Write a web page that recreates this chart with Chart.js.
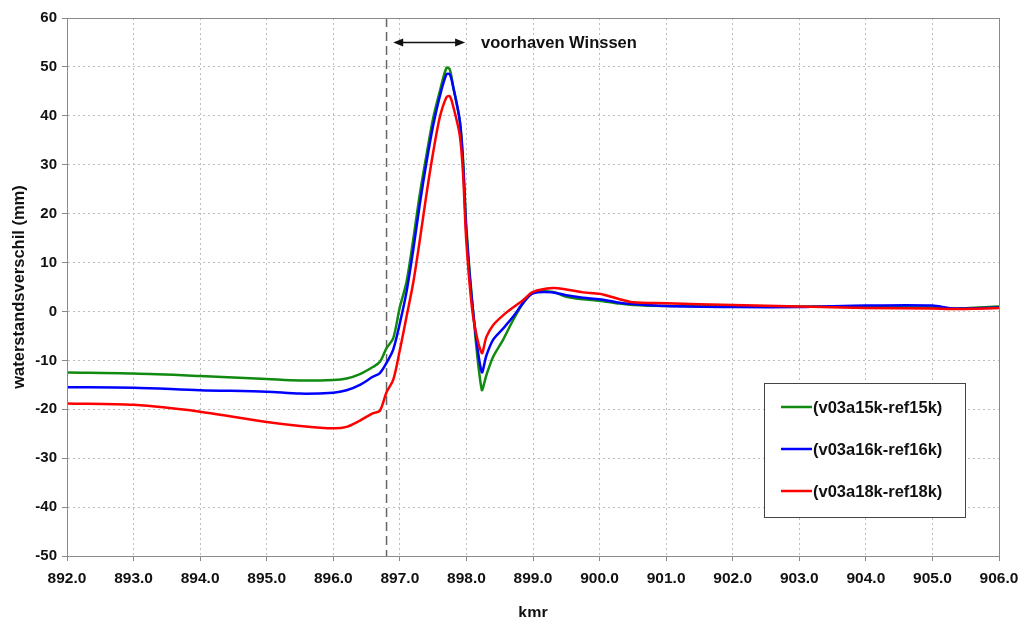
<!DOCTYPE html>
<html>
<head>
<meta charset="utf-8">
<script src="https://cdn.jsdelivr.net/npm/chart.js@4/dist/chart.umd.min.js"></script>
<style>
  html, body { margin: 0; padding: 0; background: #fff; }
  #wrap { width: 1019px; height: 617px; }
</style>
</head>
<body>
<div id="wrap"><canvas id="lineChart"></canvas></div>
<script>
// kmr positions (shared by all three series)
const kmr = [892.0, 893.0, 894.0, 895.0, 895.5, 896.0, 896.2, 896.4, 896.6, 896.7,
  896.8, 896.9, 897.0, 897.1, 897.2, 897.3, 897.4, 897.5, 897.6, 897.7,
  897.75, 897.8, 897.9, 897.95, 898.0, 898.1, 898.23, 898.3, 898.4, 898.55,
  898.7, 898.85, 899.0, 899.3, 899.5, 899.75, 900.0, 900.25, 900.5, 901.0,
  902.0, 903.0, 904.0, 905.0, 905.3, 906.0];

const v15 = [-12.5, -12.7, -13.2, -13.8, -14.1, -14.0, -13.7, -12.8, -11.3, -10.3,
  -7.5, -5.5, 0.9, 6, 14.6, 24, 32, 39.5, 45, 49.8,
  49.5, 46, 39, 31, 17, 0, -16, -13, -9.3, -5.8,
  -1.8, 1.7, 3.8, 4.0, 3.0, 2.5, 2.2, 1.7, 1.3, 1.1,
  1.1, 1.0, 0.9, 0.8, 0.6, 1.0];

const v16 = [-15.5, -15.6, -16.1, -16.4, -16.8, -16.6, -16.1, -15.0, -13.3, -12.6,
  -10.5, -7.8, -2.4, 4, 12.5, 22, 30.5, 38, 44, 48.5,
  48.5, 46, 39, 30, 16, 0, -12.4, -9, -5.8, -3.5,
  -1.1, 1.7, 3.7, 3.9, 3.3, 2.8, 2.5, 1.9, 1.5, 1.1,
  0.9, 0.9, 1.2, 1.2, 0.6, 0.8];

const v18 = [-18.8, -19.1, -20.5, -22.6, -23.4, -23.9, -23.6, -22.3, -20.8, -20.3,
  -16.5, -14.0, -7.9, -1.1, 5.8, 14.6, 24, 32.5, 39.7, 43.8,
  44, 42, 36, 28, 14, -1, -8.5, -5.2, -2.8, -0.8,
  0.8, 2.3, 4.0, 4.8, 4.5, 3.9, 3.6, 2.7, 1.9, 1.7,
  1.3, 1.0, 0.7, 0.6, 0.5, 0.7];

const seriesNames = ["(v03a15k-ref15k)", "(v03a16k-ref16k)", "(v03a18k-ref18k)"];
const seriesColors = ["#108a10", "#0000ff", "#ff0000"];

// annotations (data units)
const harbourStart = 896.8;
const arrowFrom = 896.9, arrowTo = 897.98, arrowLevel = 55;
const harbourText = "voorhaven Winssen";

const FONT = "'Liberation Sans', Arial, sans-serif";

function pts(vals) {
  return kmr.map((x, i) => ({ x: x, y: vals[i] }));
}

const annotations = {
  id: "annotations",
  beforeDatasetsDraw(chart) {
    const { ctx, chartArea, scales } = chart;
    const x = scales.x.getPixelForValue(harbourStart);
    ctx.save();
    ctx.strokeStyle = "#666";
    ctx.lineWidth = 1.5;
    ctx.setLineDash([9, 5]);
    ctx.beginPath();
    ctx.moveTo(x, chartArea.top);
    ctx.lineTo(x, chartArea.bottom);
    ctx.stroke();
    ctx.restore();
  },
  afterDraw(chart) {
    const { ctx, chartArea, scales } = chart;
    // frame on top/right
    ctx.save();
    ctx.strokeStyle = "#8a8a8a";
    ctx.lineWidth = 1;
    ctx.strokeRect(chartArea.left + 0.5, chartArea.top + 0.5,
      chartArea.right - chartArea.left, chartArea.bottom - chartArea.top);

    // arrow
    const x1 = scales.x.getPixelForValue(arrowFrom);
    const x2 = scales.x.getPixelForValue(arrowTo);
    const y = scales.y.getPixelForValue(arrowLevel);
    ctx.strokeStyle = "#111";
    ctx.fillStyle = "#111";
    ctx.lineWidth = 1.5;
    ctx.beginPath();
    ctx.moveTo(x1 + 4, y);
    ctx.lineTo(x2 - 4, y);
    ctx.stroke();
    [[x1, 1], [x2, -1]].forEach(([px, d]) => {
      ctx.beginPath();
      ctx.moveTo(px, y);
      ctx.lineTo(px + d * 10, y - 4);
      ctx.lineTo(px + d * 10, y + 4);
      ctx.closePath();
      ctx.fill();
    });
    ctx.font = "bold 16.5px " + FONT;
    ctx.textBaseline = "middle";
    ctx.fillText(harbourText, x2 + 16, y + 1);

    // legend box
    const bx = 764, by = 383, bw = 201, bh = 134;
    ctx.fillStyle = "#fff";
    ctx.fillRect(bx, by, bw, bh);
    ctx.strokeStyle = "#444";
    ctx.lineWidth = 1;
    ctx.strokeRect(bx + 0.5, by + 0.5, bw, bh);
    chart.data.datasets.forEach((ds, i) => {
      const ly = by + 24 + i * 42;
      ctx.strokeStyle = ds.borderColor;
      ctx.lineWidth = 2.5;
      ctx.beginPath();
      ctx.moveTo(bx + 17, ly);
      ctx.lineTo(bx + 48, ly);
      ctx.stroke();
      ctx.fillStyle = "#111";
      ctx.font = "bold 16.5px " + FONT;
      ctx.fillText(ds.label, bx + 49, ly + 1);
    });
    ctx.restore();
  }
};

new Chart(document.getElementById("lineChart"), {
  type: "line",
  data: {
    datasets: seriesNames.map((name, i) => ({
      label: name,
      data: pts([v15, v16, v18][i]),
      borderColor: seriesColors[i],
      borderWidth: 2.5,
      pointRadius: 0,
      tension: 0.3,
      order: 2 - i
    }))
  },
  options: {
    responsive: true,
    maintainAspectRatio: false,
    animation: false,
    layout: { padding: { top: 18, right: 20, left: 0, bottom: -6 } },
    plugins: { legend: { display: false }, tooltip: { enabled: false } },
    scales: {
      x: {
        type: "linear",
        min: 892, max: 906,
        afterFit(s) { s.height = 67; s.paddingRight = 0; s.paddingLeft = 0; },
        ticks: {
          stepSize: 1,
          padding: 8,
          color: "#111",
          font: { family: FONT, size: 15.5, weight: "bold" },
          callback: v => v.toFixed(1),
          maxRotation: 0
        },
        grid: { color: "#bdbdbd", tickLength: 5, tickColor: "#888" },
        border: { color: "#888", dash: [2, 3] },
        title: {
          display: true, text: "kmr", color: "#111",
          font: { family: FONT, size: 16, weight: "bold" },
          padding: { top: 0, bottom: 0 }
        }
      },
      y: {
        min: -50, max: 60,
        afterFit(s) { s.width = 67; },
        ticks: {
          stepSize: 10,
          padding: 5,
          color: "#111",
          font: { family: FONT, size: 15, weight: "bold" }
        },
        grid: { color: "#bdbdbd", tickLength: 5, tickColor: "#888" },
        border: { color: "#888", dash: [2, 3] },
        title: {
          display: true, text: "waterstandsverschil (mm)", color: "#111",
          font: { family: FONT, size: 16.5, weight: "bold" },
          padding: { top: 10, bottom: 4 }
        }
      }
    }
  },
  plugins: [annotations]
});
</script>
</body>
</html>
